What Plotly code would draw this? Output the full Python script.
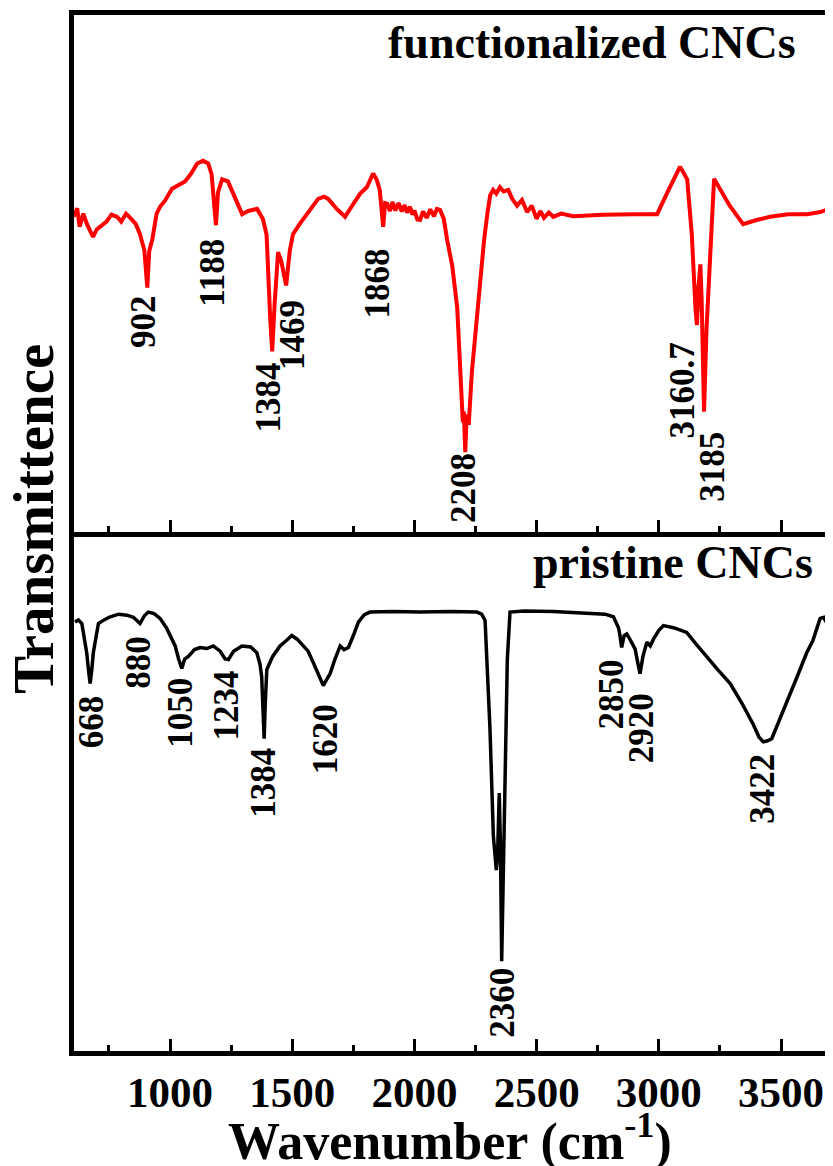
import plotly.graph_objects as go
from plotly.subplots import make_subplots

# ---------------- data ----------------
func_wn = [605, 620, 630, 645, 660, 685, 700, 714, 740, 760, 783, 800, 820, 845, 860, 877, 895, 907, 915, 927,
           945, 959, 980, 1008, 1035, 1061, 1085, 1111, 1135, 1156, 1170, 1180, 1188, 1196, 1213, 1237, 1265,
           1295, 1320, 1356, 1380, 1395, 1410, 1418, 1428, 1442, 1455, 1475, 1490, 1503, 1530, 1561, 1585,
           1606, 1630, 1647, 1680, 1716, 1745, 1778, 1805, 1831, 1845, 1858, 1872, 1880, 1888, 1900, 1910,
           1922, 1935, 1948, 1960, 1970, 1982, 1992, 2000, 2012, 2023, 2035, 2050, 2065, 2080, 2092, 2105,
           2120, 2134, 2155, 2175, 2190, 2198, 2202, 2208, 2214, 2222, 2235, 2250, 2269, 2285, 2298, 2310,
           2322, 2335, 2350, 2365, 2384, 2400, 2420, 2440, 2461, 2480, 2500, 2515, 2530, 2550, 2568, 2600,
           2650, 2772, 2900, 2993, 3040, 3087, 3116, 3135, 3150, 3156, 3162, 3170, 3175, 3185, 3195, 3206,
           3226, 3290, 3345, 3400, 3455, 3530, 3607, 3660, 3684]
func_T = [61.4, 63.0, 59.5, 62.0, 60.0, 57.6, 59.0, 59.5, 60.5, 61.8, 61.4, 60.5, 62.0, 60.8, 60.0, 58.1, 55.0,
          48.0, 55.0, 57.0, 62.0, 63.3, 64.5, 66.7, 67.5, 68.1, 69.5, 71.5, 72.0, 71.5, 69.5, 65.0, 59.8, 66.0,
          68.5, 68.1, 65.0, 61.9, 62.5, 62.9, 61.0, 58.0, 42.0, 35.9, 45.0, 54.7, 53.0, 48.4, 55.0, 58.1,
          60.0, 61.9, 63.5, 64.8, 65.2, 64.8, 63.0, 61.4, 63.5, 65.8, 67.0, 69.6, 68.5, 66.5, 59.5, 64.0,
          63.9, 62.5, 64.2, 62.6, 64.0, 62.4, 63.6, 62.2, 63.3, 61.8, 62.6, 60.9, 60.8, 62.4, 61.2, 62.8,
          61.5, 62.9, 62.7, 61.0, 57.0, 52.0, 44.2, 28.0, 22.5, 24.5, 16.8, 24.0, 22.0, 32.0, 40.0, 49.3,
          57.0, 61.9, 65.5, 66.5, 65.8, 67.0, 66.2, 66.5, 64.8, 63.5, 64.6, 62.3, 63.5, 61.0, 62.5, 61.2,
          62.2, 61.4, 62.0, 61.5, 61.8, 61.9, 61.9, 66.5, 70.9, 68.5, 58.0, 44.0, 40.9, 48.0, 52.4, 46.0,
          24.5, 40.0, 50.5, 68.6, 63.5, 60.0, 60.8, 61.4, 61.9, 61.9, 62.3, 62.7]

pris_wn = [611, 625, 639, 650, 659, 666, 673, 680, 686, 700, 707, 730, 755, 790, 823, 850, 865, 877, 895, 911,
           935, 959, 985, 1005, 1021, 1035, 1048, 1060, 1075, 1100, 1123, 1150, 1177, 1205, 1225, 1239, 1260,
           1294, 1330, 1355, 1368, 1375, 1380, 1385, 1390, 1396, 1420, 1450, 1475, 1498, 1520, 1546, 1565,
           1587, 1610, 1627, 1640, 1655, 1675, 1696, 1712, 1730, 1750, 1771, 1795, 1818, 1914, 2023, 2150,
           2255, 2275, 2289, 2309, 2323, 2335, 2340, 2347, 2352, 2357, 2362, 2371, 2380, 2391, 2450, 2568,
           2700, 2780, 2814, 2835, 2841, 2848, 2858, 2869, 2885, 2903, 2915, 2923, 2935, 2951, 2965, 2978,
           3000, 3019, 3060, 3114, 3150, 3182, 3240, 3292, 3340, 3387, 3410, 3428, 3445, 3462, 3490, 3523,
           3565, 3605, 3630, 3660, 3675, 3684]
pris_T = [83.1, 83.5, 82.8, 80.0, 77.2, 74.0, 71.3, 74.0, 77.2, 81.0, 82.8, 83.5, 84.1, 84.6, 84.4, 84.0, 83.2,
          82.8, 84.3, 85.0, 84.7, 83.8, 82.0, 80.0, 78.5, 76.0, 74.2, 76.0, 76.5, 77.8, 78.2, 78.0, 78.5,
          77.5, 76.0, 75.9, 77.5, 78.5, 78.3, 77.2, 75.0, 72.6, 66.0, 60.7, 68.0, 74.0, 76.5, 78.5, 79.5,
          80.5, 79.8, 78.5, 77.5, 75.2, 72.5, 70.9, 72.0, 73.2, 76.0, 78.5, 77.8, 78.2, 80.5, 83.1, 84.5,
          85.0, 85.1, 85.0, 85.1, 85.0, 84.6, 83.4, 62.7, 42.0, 35.5, 38.0, 50.3, 40.0, 18.0, 30.0, 48.3,
          75.9, 85.0, 85.2, 85.1, 84.8, 84.6, 84.1, 82.0, 80.5, 78.2, 80.5, 80.8, 79.5, 77.9, 75.0, 73.2,
          76.5, 79.2, 78.5, 79.8, 81.5, 82.4, 82.0, 81.1, 79.0, 77.2, 74.0, 71.3, 67.5, 63.4, 61.0, 60.1,
          60.3, 60.7, 64.0, 68.0, 72.5, 77.2, 79.5, 83.8, 84.0, 83.1]

func_labels = ["902", "1188", "1384", "1469", "1868", "2208", "3160.7", "3185"]
pris_labels = ["668", "880", "1050", "1234", "1384", "1620", "2360", "2850", "2920", "3422"]

# label anchor positions (wavenumber, transmittance)
func_lab_x = [894, 1174, 1401, 1499, 1847, 2200, 3095, 3218]
func_lab_y = [41.5, 50.7, 27.2, 39.0, 48.8, 10.1, 28.5, 14.1]
pris_lab_x = [677, 873, 1045, 1229, 1381, 1634, 2359, 2805, 2927, 3426]
pris_lab_y = [63.9, 75.3, 65.7, 67.1, 52.3, 60.6, 10.1, 69.2, 62.7, 51.1]

FONT = "Liberation Serif, Times New Roman, serif"
SPLIT = 0.501

fig = make_subplots(rows=2, cols=1, shared_xaxes=True, vertical_spacing=0)

fig.add_trace(go.Scatter(x=func_wn, y=func_T, mode="lines",
                         line=dict(color="#ff0000", width=4), showlegend=False), row=1, col=1)
fig.add_trace(go.Scatter(x=pris_wn, y=pris_T, mode="lines",
                         line=dict(color="#000000", width=3.5), showlegend=False), row=2, col=1)

axis_common = dict(range=[607, 3684], showline=True, linecolor="black", linewidth=4.5,
                   ticks="inside", ticklen=12, tickwidth=3, tickcolor="black", dtick=500, tick0=0,
                   minor=dict(ticks="inside", ticklen=6, tickwidth=3, tickcolor="black", dtick=250),
                   showgrid=False, zeroline=False)

fig.update_xaxes(**axis_common, mirror=True, showticklabels=False, row=1, col=1)
fig.update_xaxes(**axis_common, mirror=False, showticklabels=True,
                 tickfont=dict(family=FONT, size=43, color="black", weight="bold"),
                 ticklabelstandoff=0, row=2, col=1)

y_common = dict(showline=True, linecolor="black", linewidth=4.5, mirror=True,
                ticks="", showticklabels=False, showgrid=False, zeroline=False)
fig.update_yaxes(**y_common, range=[1.71, 99.62], domain=[SPLIT, 1.0], row=1, col=1)
fig.update_yaxes(**y_common, range=[0.79, 100.37], domain=[0.0, SPLIT], row=2, col=1)

annotations = []
lab_font = dict(family=FONT, size=35, color="black", weight="bold")
for t, x, y in zip(func_labels, func_lab_x, func_lab_y):
    annotations.append(dict(text=t, x=x, y=y, xref="x", yref="y", showarrow=False,
                            textangle=-90, font=lab_font))
for t, x, y in zip(pris_labels, pris_lab_x, pris_lab_y):
    annotations.append(dict(text=t, x=x, y=y, xref="x2", yref="y2", showarrow=False,
                            textangle=-90, font=lab_font))

annotations.append(dict(text="functionalized CNCs", x=0.963, y=0.946, xref="x domain", yref="y domain",
                        xanchor="right", yanchor="middle", showarrow=False,
                        font=dict(family=FONT, size=46, color="black", weight="bold")))
annotations.append(dict(text="pristine CNCs", x=0.985, y=0.942, xref="x2 domain", yref="y2 domain",
                        xanchor="right", yanchor="middle", showarrow=False,
                        font=dict(family=FONT, size=46, color="black", weight="bold")))
annotations.append(dict(text="Transmittence", x=-0.0545, y=0.5135, xref="paper", yref="paper",
                        xanchor="center", yanchor="middle", textangle=-90, showarrow=False,
                        font=dict(family=FONT, size=57, color="black", weight="bold")))
annotations.append(dict(text="Wavenumber (cm<sup>-1</sup>)", x=0.5, y=-0.0835, xref="paper", yref="paper",
                        xanchor="center", yanchor="middle", showarrow=False,
                        font=dict(family=FONT, size=52, color="black", weight="bold")))

fig.update_layout(width=825, height=1158, margin=dict(l=66, r=7, t=2, b=115),
                  paper_bgcolor="white", plot_bgcolor="white", annotations=annotations,
                  showlegend=False)

fig.write_html("out.html")
